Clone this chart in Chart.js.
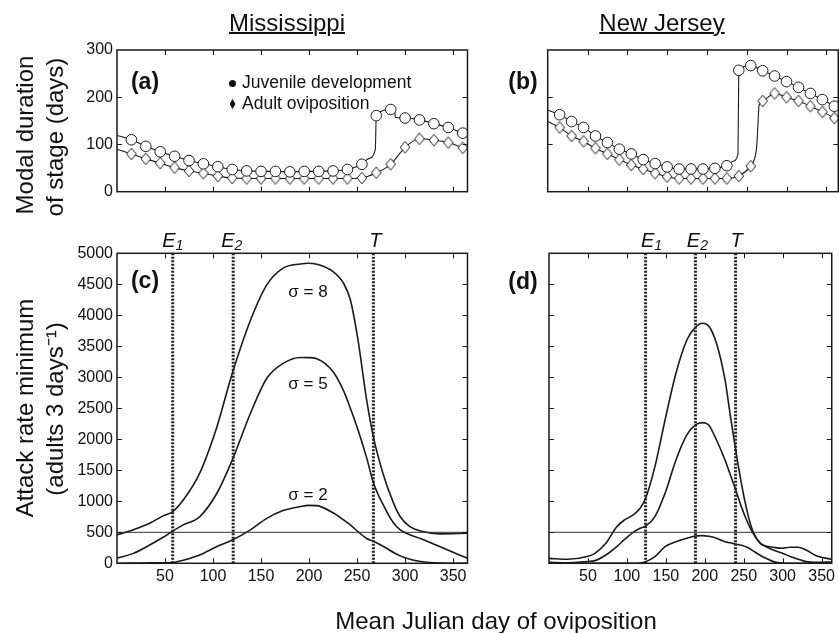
<!DOCTYPE html>
<html><head><meta charset="utf-8">
<script src="https://cdn.jsdelivr.net/npm/chart.js@4.4.1/dist/chart.umd.min.js"></script>
<style>
html,body{margin:0;padding:0;background:#fff;}
#wrap{position:relative;width:839px;height:633px;overflow:hidden;font-family:'Liberation Sans',Arial,Helvetica,sans-serif;color:#111;}
canvas{position:absolute;left:0;top:0;}
.t{position:absolute;white-space:nowrap;line-height:1;transform:translate(-50%,-50%);}
.tl{position:absolute;white-space:nowrap;line-height:1;transform:translate(0,-50%);}
.r{transform:translate(-50%,-50%) rotate(-90deg);}
.b{font-weight:bold;}
</style></head><body>
<div id="wrap">
<canvas id="ca" width="839" height="633"></canvas>
<canvas id="cb" width="839" height="633"></canvas>
<canvas id="cc" width="839" height="633"></canvas>
<canvas id="cd" width="839" height="633"></canvas>

<div class="t" style="left:287px;top:23px;font-size:24px;text-decoration:underline;text-decoration-thickness:1.5px;">Mississippi</div>
<div class="t" style="left:662px;top:23px;font-size:24px;text-decoration:underline;text-decoration-thickness:1.5px;">New Jersey</div>

<div class="t r" style="left:24.7px;top:135px;font-size:24px;">Modal duration</div>
<div class="t r" style="left:54.5px;top:137px;font-size:24px;">of stage (days)</div>
<div class="t r" style="left:24.7px;top:408px;font-size:24px;">Attack rate minimum</div>
<div class="t r" style="left:54.5px;top:409px;font-size:24px;">(adults 3 days⁻¹)</div>
<div class="t" style="left:496px;top:621px;font-size:24px;">Mean Julian day of oviposition</div>

<div class="t b" style="left:145px;top:81px;font-size:23px;">(a)</div>
<div class="t b" style="left:523px;top:81px;font-size:23px;">(b)</div>
<div class="t b" style="left:145px;top:280px;font-size:23px;">(c)</div>
<div class="t b" style="left:523px;top:281px;font-size:23px;">(d)</div>

<div style="position:absolute;left:228.5px;top:79.5px;width:7px;height:7px;border-radius:50%;background:#111;"></div>
<div class="tl" style="left:242px;top:83px;font-size:17.5px;">Juvenile development</div>
<div style="position:absolute;left:229.5px;top:99px;width:6px;height:10px;background:#111;clip-path:polygon(50% 0,100% 50%,50% 100%,0 50%);"></div>
<div class="tl" style="left:242px;top:104px;font-size:17.5px;">Adult oviposition</div>

<div class="t" style="left:308px;top:291px;font-size:17px;">σ = 8</div>
<div class="t" style="left:308px;top:383px;font-size:17px;">σ = 5</div>
<div class="t" style="left:308px;top:494px;font-size:17px;">σ = 2</div>
</div>
<script>
// ---------------- data ----------------
const xTickValues = [50, 100, 150, 200, 250, 300, 350];
const durationTicks = [0, 100, 200, 300];
const attackTicks = [0, 500, 1000, 1500, 2000, 2500, 3000, 3500, 4000, 4500, 5000];

// (a) Mississippi modal durations
const msJuvDays = [0,15,30,45,60,75,90,105,120,135,150,165,180,195,210,225,240,255,262,269,270,285,289,290,300,315,330,345,360,365];
const msJuv     = [119,110,96,84.5,75,66,59,53,47,44,43,43,42,43,43,44,47,58,70,89,161,174,172,157,156,152,144,136,124,120];
const msAdDays  = [0,15,30,45,60,75,90,105,120,135,150,165,180,195,210,225,240,255,270,285,300,315,330,345,360,365];
const msAd      = [90,80,69.5,60.5,51,44,39,33,29,28,28,28,28,28,28,28,28,29,40,58,94,112,109,104,93,90];

// (b) New Jersey modal durations
const njJuvDays = [0,15,30,45,60,75,90,105,120,135,150,165,180,195,210,225,232,239,240,255,270,285,300,315,330,345,360,365];
const njJuv     = [173,163,148.5,136,118,104,90,80,68,59.5,52.5,48,48,48,49.5,55,64,79,257,267,256,245,233,221,208,195,181,177];
const njAdDays  = [0,15,30,45,60,75,90,105,120,135,150,165,180,195,210,225,240,255,259,262.5,264,265.5,270,285,300,315,330,345,360,365];
const njAd      = [148.5,136,118,106.5,92,80,68,56.5,48,39,32,28,28,28,28,28,33,54,66,96,140,183,192,208,200,192,181,169,156,151];

// (c) Mississippi attack rate minimum
const msCurveDays = [0,17,34,48,58,69,86,104,120,139,156,173,191,199,208,225,236,243,251,260,267,277,288,295,305,316,336,365];
const msSigma8 = [460,540,645,765,833,1020,1450,2200,3060,3920,4490,4760,4828,4840,4823,4705,4515,4250,3600,2630,2040,1450,970,750,590,520,475,485];
const msSigma5 = [80,160,295,420,520,620,750,1130,1665,2420,2985,3225,3320,3318,3300,3090,2780,2500,2150,1700,1300,950,650,540,460,400,270,80];
const msSigma2 = [0,3,8,10,12,50,135,270,375,540,725,850,915,935,930,815,700,620,510,400,355,275,175,120,65,30,5,0];
const msMarkDays = [58, 121, 267];

// (d) New Jersey attack rate minimum
const njCurveDays = [0,24,49,59,73,87,97,108,117,124,136,149,163,177,188,197,205,215,226,233,239,247,255,262,271,278,288,299,309,320,330,344,363];
const njSigma8 = [80,65,108,161,323,591,699,780,887,1048,1559,2312,3065,3602,3806,3871,3828,3548,2957,2366,1882,1290,806,511,323,280,258,242,258,258,215,118,65];
const njSigma5 = [16,10,30,43,134,269,385,500,565,602,753,1129,1667,2070,2231,2269,2231,1989,1667,1420,1210,910,660,484,330,270,215,165,115,65,27,16,21];
const njSigma2 = [0,0,0,0,0,0,0,0,5,27,108,269,349,403,441,446,435,405,349,330,312,292,255,200,130,85,27,3,0,0,0,0,0];
const njMarkDays = [124, 188, 239.5];

const markLabels = ['E', 'E', 'T'];
const markSubs = ['1', '2', ''];
const threshold = 500;

// ---------------- helpers ----------------
Chart.defaults.font.family = "'Liberation Sans', Arial, Helvetica, sans-serif";
Chart.defaults.color = '#111';
const INK = '#1a1a1a';
const pts = (xs, ys) => xs.map((x, i) => ({x, y: ys[i]}));

const diamond = document.createElement('canvas');
diamond.width = 12; diamond.height = 14;
(() => {
  const g = diamond.getContext('2d');
  g.beginPath();
  g.moveTo(6, 1.2); g.lineTo(10.8, 7); g.lineTo(6, 12.8); g.lineTo(1.2, 7); g.closePath();
  g.fillStyle = '#fff'; g.fill();
  g.strokeStyle = INK; g.lineWidth = 1; g.stroke();
})();

const isMarker = x => x > 0 && x <= 360 && x % 15 === 0;

function durSeries(xs, ys, style) {
  return {
    data: pts(xs, ys), showLine: true, borderColor: INK, borderWidth: 1.1,
    cubicInterpolationMode: 'monotone',
    pointRadius: c => isMarker(c.raw.x) ? 5.3 : 0,
    pointStyle: style === 'circle' ? 'circle' : diamond,
    pointBackgroundColor: '#fff', pointBorderColor: INK, pointBorderWidth: 1
  };
}
function curve(xs, ys) {
  return { data: pts(xs, ys), showLine: true, borderColor: INK, borderWidth: 1.6,
    cubicInterpolationMode: 'monotone', pointRadius: 0 };
}
function vline(x, top) {
  return { data: [{x, y: 0}, {x, y: top}], showLine: true, borderColor: '#222',
    borderWidth: 3, borderDash: [2, 1.5], pointRadius: 0, tension: 0 };
}
function hline(y, xmax) {
  return { data: [{x: 0, y}, {x: xmax, y}], showLine: true, borderColor: '#333',
    borderWidth: 1, pointRadius: 0, tension: 0 };
}

const framePlugin = {
  id: 'frame',
  afterDatasetsDraw(chart, args, o) {
    const {ctx, chartArea: a, scales} = chart;
    ctx.save();
    ctx.strokeStyle = INK;
    ctx.lineWidth = 1;
    ctx.beginPath();
    for (const v of o.xt) {
      const px = Math.round(scales.x.getPixelForValue(v)) + 0.5;
      ctx.moveTo(px, a.bottom); ctx.lineTo(px, a.bottom - 5);
      ctx.moveTo(px, a.top); ctx.lineTo(px, a.top + 5);
    }
    for (const v of o.yt) {
      const py = Math.round(scales.y.getPixelForValue(v)) + 0.5;
      ctx.moveTo(a.left, py); ctx.lineTo(a.left + 5, py);
      ctx.moveTo(a.right, py); ctx.lineTo(a.right - 5, py);
    }
    ctx.stroke();
    ctx.lineWidth = 1.5;
    ctx.strokeRect(a.left, a.top, a.right - a.left, a.bottom - a.top);
    if (o.marks) {
      ctx.fillStyle = '#111';
      o.marks.forEach((d, i) => {
        ctx.font = "italic 20px 'Liberation Sans', Arial, sans-serif";
        const w1 = ctx.measureText(markLabels[i]).width;
        ctx.font = "italic 14px 'Liberation Sans', Arial, sans-serif";
        const w2 = markSubs[i] ? ctx.measureText(markSubs[i]).width : 0;
        const cx = scales.x.getPixelForValue(d) + o.dx[i];
        const x0 = cx - (w1 + w2) / 2;
        ctx.textAlign = 'left'; ctx.textBaseline = 'alphabetic';
        ctx.font = "italic 20px 'Liberation Sans', Arial, sans-serif";
        ctx.fillText(markLabels[i], x0, a.top - 6.5);
        if (markSubs[i]) {
          ctx.font = "italic 14px 'Liberation Sans', Arial, sans-serif";
          ctx.fillText(markSubs[i], x0 + w1, a.top - 3.3);
        }
      });
    }
    ctx.restore();
  }
};

const hiddenGrid = {display: false, drawTicks: false};
const plainNum = v => String(v);
function xAxis(show, max) {
  return {
    type: 'linear', min: 0, max, display: show,
    afterBuildTicks: s => { s.ticks = xTickValues.map(v => ({value: v})); },
    ticks: {font: {size: 16}, padding: 4, maxRotation: 0, autoSkip: false, color: '#111', callback: plainNum},
    grid: hiddenGrid, border: {display: false},
    afterFit: s => { s.height = 30; }
  };
}
function yAxis(show, max, ticks) {
  return {
    type: 'linear', min: 0, max, display: show,
    afterBuildTicks: s => { s.ticks = ticks.map(v => ({value: v})); },
    ticks: {font: {size: 16}, padding: 4, color: '#111', callback: plainNum},
    grid: hiddenGrid, border: {display: false},
    afterFit: s => { s.width = 60; }
  };
}
function make(id, datasets, padding, x, y, frame) {
  new Chart(document.getElementById(id), {
    type: 'scatter',
    data: {datasets},
    options: {
      responsive: false, animation: false, events: [],
      layout: {padding},
      plugins: {legend: {display: false}, tooltip: {enabled: false}, frame},
      scales: {x, y}
    },
    plugins: [framePlugin]
  });
}

// (a)
make('ca', [durSeries(msJuvDays, msJuv, 'circle'), durSeries(msAdDays, msAd, 'diamond')],
  {left: 57, top: 50, right: 371.5, bottom: 411.3},
  xAxis(false, 365), yAxis(true, 300, durationTicks),
  {xt: xTickValues, yt: [100, 200]});
// (b)
make('cb', [durSeries(njJuvDays, njJuv, 'circle'), durSeries(njAdDays, njAd, 'diamond')],
  {left: 487.7, top: 50, right: 0.7, bottom: 411.3},
  xAxis(false, 365), yAxis(false, 300, durationTicks),
  {xt: xTickValues, yt: [100, 200]});
// (c)
make('cc', [...msMarkDays.map(d => vline(d, 5000)), hline(threshold, 365),
    curve(msCurveDays, msSigma8), curve(msCurveDays, msSigma5), curve(msCurveDays, msSigma2)],
  {left: 57, top: 253.3, right: 371.5, bottom: 39.7},
  xAxis(true, 365), yAxis(true, 5000, attackTicks),
  {xt: xTickValues, yt: attackTicks.slice(1, -1), marks: msMarkDays, dx: [0, -1.5, 2]});
// (d)
make('cd', [...njMarkDays.map(d => vline(d, 5000)), hline(threshold, 363),
    curve(njCurveDays, njSigma8), curve(njCurveDays, njSigma5), curve(njCurveDays, njSigma2)],
  {left: 489, top: 253.3, right: 1, bottom: 39.7},
  xAxis(true, 363), yAxis(false, 5000, attackTicks),
  {xt: xTickValues, yt: attackTicks.slice(1, -1), marks: njMarkDays, dx: [6, 2, 1]});
</script>
</body></html>
